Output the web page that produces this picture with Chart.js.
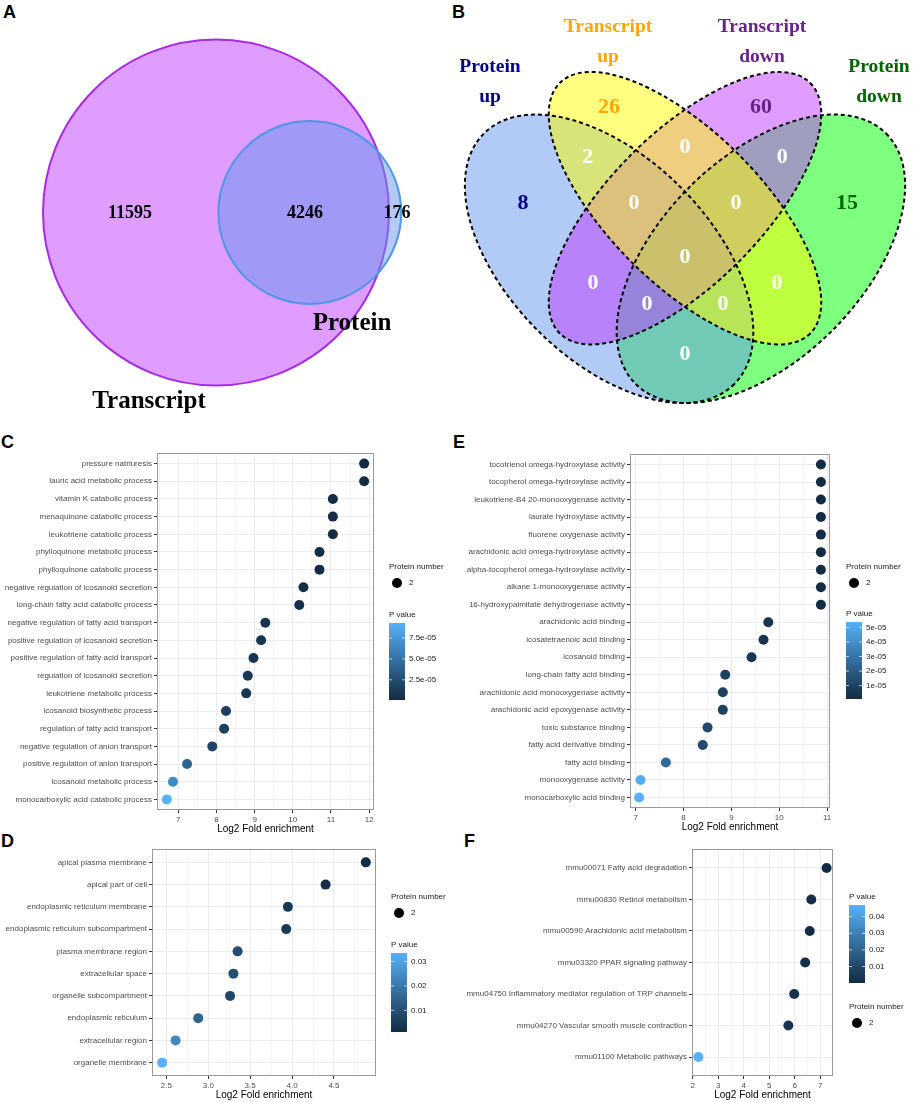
<!DOCTYPE html>
<html>
<head>
<meta charset="utf-8">
<script src="https://cdn.jsdelivr.net/npm/chart.js@4/dist/chart.umd.min.js"></script>
<style>
  body { margin: 0; background: #fff; width: 913px; height: 1102px; position: relative; overflow: hidden; }
  canvas { position: absolute; }
  .tag { position: absolute; font: bold 18px "Liberation Sans", Arial, sans-serif; line-height: 18px; color: #000; }
</style>
</head>
<body>
<div class="tag" style="left:3px;top:3px">A</div>
<div class="tag" style="left:452px;top:3px">B</div>
<div class="tag" style="left:1px;top:433px">C</div>
<div class="tag" style="left:453px;top:433px">E</div>
<div class="tag" style="left:1px;top:832px">D</div>
<div class="tag" style="left:464px;top:832px">F</div>

<canvas id="cA" width="460" height="430" style="left:0;top:0"></canvas>
<canvas id="cB" width="453" height="430" style="left:460px;top:0"></canvas>
<canvas id="cC" width="460" height="410" style="left:0;top:430px"></canvas>
<canvas id="cE" width="453" height="410" style="left:460px;top:430px"></canvas>
<canvas id="cD" width="460" height="262" style="left:0;top:840px"></canvas>
<canvas id="cF" width="453" height="262" style="left:460px;top:840px"></canvas>

<script>
// ---- A: transcript / protein overlap
const vennASets = ['Transcript', 'Protein'];
const vennACounts = [11595, 4246, 176]; // transcript only, both, protein only

// ---- B: up / down overlap
const vennBSets = ['Protein up', 'Transcript up', 'Transcript down', 'Protein down'];
const vennBRegions = ['A', 'B', 'C', 'D', 'AB', 'BC', 'CD', 'ABC', 'BCD', 'ABCD', 'AC', 'BD', 'ACD', 'ABD', 'AD'];
const vennBCounts = [8, 26, 60, 15, 2, 0, 0, 0, 0, 0, 0, 0, 0, 0, 0];

// ---- C: GO biological process
const bpTerms = ['pressure natriuresis', 'lauric acid metabolic process', 'vitamin K catabolic process',
  'menaquinone catabolic process', 'leukotriene catabolic process', 'phylloquinone metabolic process',
  'phylloquinone catabolic process', 'negative regulation of icosanoid secretion',
  'long-chain fatty acid catabolic process', 'negative regulation of fatty acid transport',
  'positive regulation of icosanoid secretion', 'positive regulation of fatty acid transport',
  'regulation of icosanoid secretion', 'leukotriene metabolic process', 'icosanoid biosynthetic process',
  'regulation of fatty acid transport', 'negative regulation of anion transport',
  'positive regulation of anion transport', 'icosanoid metabolic process', 'monocarboxylic acid catabolic process'];
const bpFold = [11.87, 11.87, 11.05, 11.05, 11.05, 10.70, 10.70, 10.28, 10.17, 9.28,
  9.17, 8.97, 8.82, 8.78, 8.25, 8.20, 7.89, 7.23, 6.86, 6.70];
const bpP = [8e-7, 8e-7, 1.6e-6, 1.6e-6, 1.6e-6, 2.2e-6, 2.2e-6, 3e-6, 3.3e-6, 6.5e-6,
  7e-6, 8.2e-6, 9.1e-6, 9.4e-6, 1.4e-5, 1.45e-5, 1.8e-5, 4.0e-5, 6.6e-5, 9.3e-5];
const bpTicks = [7, 8, 9, 10, 11, 12];
const bpTickLabels = ['7', '8', '9', '10', '11', '12'];
const bpPTicks = [2.5e-5, 5.0e-5, 7.5e-5];
const bpPLabels = ['2.5e-05', '5.0e-05', '7.5e-05'];

// ---- D: GO cellular component
const ccTerms = ['apical plasma membrane', 'apical part of cell', 'endoplasmic reticulum membrane',
  'endoplasmic reticulum subcompartment', 'plasma membrane region', 'extracellular space',
  'organelle subcompartment', 'endoplasmic reticulum', 'extracellular region', 'organelle membrane'];
const ccFold = [4.88, 4.40, 3.95, 3.93, 3.35, 3.30, 3.26, 2.88, 2.61, 2.45];
const ccP = [0.0011, 0.002, 0.0043, 0.0045, 0.0092, 0.010, 0.0076, 0.015, 0.0235, 0.0335];
const ccTicks = [2.5, 3.0, 3.5, 4.0, 4.5];
const ccTickLabels = ['2.5', '3.0', '3.5', '4.0', '4.5'];
const ccPTicks = [0.01, 0.02, 0.03];
const ccPLabels = ['0.01', '0.02', '0.03'];

// ---- E: GO molecular function
const mfTerms = ['tocotrienol omega-hydroxylase activity', 'tocopherol omega-hydroxylase activity',
  'leukotriene-B4 20-monooxygenase activity', 'laurate hydroxylase activity', 'fluorene oxygenase activity',
  'arachidonic acid omega-hydroxylase activity', 'alpha-tocopherol omega-hydroxylase activity',
  'alkane 1-monooxygenase activity', '16-hydroxypalmitate dehydrogenase activity', 'arachidonic acid binding',
  'icosatetraenoic acid binding', 'icosanoid binding', 'long-chain fatty acid binding',
  'arachidonic acid monooxygenase activity', 'arachidonic acid epoxygenase activity', 'toxic substance binding',
  'fatty acid derivative binding', 'fatty acid binding', 'monooxygenase activity', 'monocarboxylic acid binding'];
const mfFold = [10.87, 10.87, 10.87, 10.87, 10.87, 10.87, 10.87, 10.87, 10.87, 9.77,
  9.67, 9.42, 8.87, 8.82, 8.82, 8.50, 8.40, 7.63, 7.10, 7.07];
const mfP = [8e-7, 8e-7, 8e-7, 8e-7, 8e-7, 8e-7, 8e-7, 8e-7, 8e-7, 4e-6,
  4.5e-6, 5.5e-6, 9e-6, 9.5e-6, 9.5e-6, 1.2e-5, 1.3e-5, 2.5e-5, 5.2e-5, 5.37e-5];
const mfTicks = [7, 8, 9, 10, 11];
const mfTickLabels = ['7', '8', '9', '10', '11'];
const mfPTicks = [1e-5, 2e-5, 3e-5, 4e-5, 5e-5];
const mfPLabels = ['1e-05', '2e-05', '3e-05', '4e-05', '5e-05'];

// ---- F: KEGG pathways
const keggTerms = ['mmu00071 Fatty acid degradation', 'mmu00830 Retinol metabolism',
  'mmu00590 Arachidonic acid metabolism', 'mmu03320 PPAR signaling pathway',
  'mmu04750 Inflammatory mediator regulation of TRP channels', 'mmu04270 Vascular smooth muscle contraction',
  'mmu01100 Metabolic pathways'];
const keggFold = [7.25, 6.65, 6.59, 6.41, 5.98, 5.75, 2.22];
const keggP = [0.0001, 0.0008, 0.0009, 0.0012, 0.0022, 0.0028, 0.047];
const keggTicks = [2, 3, 4, 5, 6, 7];
const keggTickLabels = ['2', '3', '4', '5', '6', '7'];
const keggPTicks = [0.01, 0.02, 0.03, 0.04];
const keggPLabels = ['0.01', '0.02', '0.03', '0.04'];

const proteinNumber = [2];

const SANS = '"Liberation Sans", Arial, Helvetica, sans-serif';
const SERIF = '"Liberation Serif", "Times New Roman", serif';
const LOW = [19, 43, 67], HIGH = [86, 177, 247];

function pColor(p, lo, hi) {
  const t = hi > lo ? (p - lo) / (hi - lo) : 0;
  const c = LOW.map((v, i) => Math.round(v + (HIGH[i] - v) * t));
  return 'rgb(' + c.join(',') + ')';
}

// ---------- Venn A ----------
function lensArea(r1, r2, d) {
  const a1 = Math.acos((d * d + r1 * r1 - r2 * r2) / (2 * d * r1));
  const a2 = Math.acos((d * d + r2 * r2 - r1 * r1) / (2 * d * r2));
  return r1 * r1 * (a1 - Math.sin(2 * a1) / 2) + r2 * r2 * (a2 - Math.sin(2 * a2) / 2);
}

(function() {
  const tTotal = vennACounts[0] + vennACounts[1];
  const pTotal = vennACounts[1] + vennACounts[2];
  const r1 = 173;
  const r2 = r1 * Math.sqrt(pTotal / tTotal);
  const target = Math.PI * r1 * r1 * vennACounts[1] / tTotal;
  let lo = r1 - r2 + 1e-6, hi = r1 + r2 - 1e-6;
  for (let i = 0; i < 60; i++) {
    const m = (lo + hi) / 2;
    if (lensArea(r1, r2, m) > target) lo = m; else hi = m;
  }
  const d = (lo + hi) / 2;
  const cx = 216, cy = 212.5;

  // label anchors: counts then set names
  const labelPts = [{x: 130, y: 213}, {x: 305, y: 213}, {x: 397, y: 213}];
  const namePts = [{x: 149, y: 402}, {x: 352, y: 324}];

  new Chart(document.getElementById('cA'), {
    type: 'scatter',
    data: {
      datasets: [
        { data: labelPts, pointRadius: 0 },
        { data: namePts, pointRadius: 0 }
      ]
    },
    options: {
      responsive: false, animation: false, events: [],
      layout: { padding: 0 },
      plugins: { legend: { display: false }, tooltip: { enabled: false } },
      scales: {
        x: { type: 'linear', min: 0, max: 460, display: false },
        y: { type: 'linear', min: 0, max: 430, reverse: true, display: false }
      }
    },
    plugins: [{
      id: 'vennA',
      beforeDatasetsDraw(chart) {
        const {ctx, scales: {x, y}} = chart;
        const k = x.getPixelForValue(1) - x.getPixelForValue(0);
        const circles = [
          { cx: cx, r: r1, fill: 'rgba(191,62,255,0.5)', line: '#a62ae8' },
          { cx: cx + d, r: r2, fill: 'rgba(100,149,237,0.5)', line: '#4f97e6' }
        ];
        ctx.save();
        circles.forEach(c => {
          ctx.beginPath();
          ctx.arc(x.getPixelForValue(c.cx), y.getPixelForValue(cy), c.r * k, 0, Math.PI * 2);
          ctx.fillStyle = c.fill;
          ctx.fill();
          ctx.lineWidth = 2;
          ctx.strokeStyle = c.line;
          ctx.stroke();
        });
        ctx.restore();
      },
      afterDatasetsDraw(chart) {
        const ctx = chart.ctx;
        ctx.save();
        ctx.fillStyle = '#000';
        ctx.textAlign = 'center';
        ctx.textBaseline = 'middle';
        ctx.font = 'bold 18px ' + SERIF;
        chart.getDatasetMeta(0).data.forEach((pt, i) => ctx.fillText(String(vennACounts[i]), pt.x, pt.y));
        ctx.font = 'bold 25px ' + SERIF;
        chart.getDatasetMeta(1).data.forEach((pt, i) => ctx.fillText(vennASets[i], pt.x, pt.y));
        ctx.restore();
      }
    }]
  });
})();

// ---------- Venn B ----------
(function() {
  const unit = 506; // px per layout unit
  // region label anchors in layout units (same order as vennBRegions)
  const regionPts = [
    {x: 0.180, y: 0.580}, {x: 0.350, y: 0.770}, {x: 0.650, y: 0.770}, {x: 0.820, y: 0.580},
    {x: 0.308, y: 0.671}, {x: 0.500, y: 0.691}, {x: 0.692, y: 0.671}, {x: 0.399, y: 0.580},
    {x: 0.601, y: 0.580}, {x: 0.500, y: 0.472}, {x: 0.318, y: 0.422}, {x: 0.682, y: 0.422},
    {x: 0.425, y: 0.381}, {x: 0.575, y: 0.381}, {x: 0.500, y: 0.282}
  ];
  const regionColors = ['#00008b', '#ffa500', '#68228b', '#006400'];
  const ellipses = [
    { cx: 0.65, cy: 0.47, a: 0.35, b: 0.20, rot: -45, fill: 'rgba(0,255,0,0.5)' },
    { cx: 0.35, cy: 0.47, a: 0.35, b: 0.20, rot: 45, fill: 'rgba(100,149,237,0.5)' },
    { cx: 0.50, cy: 0.57, a: 0.35, b: 0.15, rot: -45, fill: 'rgba(191,62,255,0.5)' },
    { cx: 0.50, cy: 0.57, a: 0.35, b: 0.15, rot: 45, fill: 'rgba(255,255,0,0.5)' }
  ];
  const setLabelPos = [[30, 67, 97], [148, 27, 57], [302, 27, 57], [419, 67, 97]];

  new Chart(document.getElementById('cB'), {
    type: 'scatter',
    data: { datasets: [{ data: regionPts, pointRadius: 0 }] },
    options: {
      responsive: false, animation: false, events: [],
      layout: { padding: 0 },
      plugins: { legend: { display: false }, tooltip: { enabled: false } },
      scales: {
        x: { type: 'linear', min: 0.5 - 225 / unit, max: 0.5 + 228 / unit, display: false },
        y: { type: 'linear', min: 0.185 - 27 / unit, max: 0.185 + 403 / unit, display: false }
      }
    },
    plugins: [{
      id: 'vennB',
      beforeDatasetsDraw(chart) {
        const {ctx, scales: {x, y}} = chart;
        const k = x.getPixelForValue(1) - x.getPixelForValue(0);
        ctx.save();
        ellipses.forEach(e => {
          ctx.beginPath();
          ctx.ellipse(x.getPixelForValue(e.cx), y.getPixelForValue(e.cy), e.a * k, e.b * k, e.rot * Math.PI / 180, 0, Math.PI * 2);
          ctx.fillStyle = e.fill;
          ctx.fill();
        });
        ctx.setLineDash([4, 3]);
        ctx.lineWidth = 2;
        ctx.strokeStyle = '#000';
        ellipses.forEach(e => {
          ctx.beginPath();
          ctx.ellipse(x.getPixelForValue(e.cx), y.getPixelForValue(e.cy), e.a * k, e.b * k, e.rot * Math.PI / 180, 0, Math.PI * 2);
          ctx.stroke();
        });
        ctx.restore();
      },
      afterDatasetsDraw(chart) {
        const ctx = chart.ctx;
        ctx.save();
        ctx.textAlign = 'center';
        ctx.textBaseline = 'middle';
        ctx.font = 'bold 22px ' + SERIF;
        chart.getDatasetMeta(0).data.forEach((pt, i) => {
          const r = vennBRegions[i];
          ctx.fillStyle = r.length === 1 ? regionColors['ABCD'.indexOf(r)] : '#fff';
          ctx.fillText(String(vennBCounts[i]), pt.x, pt.y);
        });
        ctx.font = 'bold 19.5px ' + SERIF;
        vennBSets.forEach((s, i) => {
          const words = s.split(' ');
          const p = setLabelPos[i];
          ctx.fillStyle = regionColors[i];
          ctx.fillText(words[0], p[0], p[1]);
          ctx.fillText(words[1], p[0], p[2]);
        });
        ctx.restore();
      }
    }]
  });
})();

// ---------- dot plots ----------
function dotPlot(id, terms, fold, pv, xTicks, xLabels, pTicks, pLabels, box, leg) {
  const lo = Math.min(...fold), hi = Math.max(...fold), pad = (hi - lo) * 0.05;
  const xmin = lo - pad, xmax = hi + pad;
  const pmin = Math.min(...pv), pmax = Math.max(...pv);
  const step = xTicks[1] - xTicks[0];
  const minors = xTicks.map(v => v - step / 2).concat([xTicks[xTicks.length - 1] + step / 2]);
  const isMajor = v => xTicks.some(t => Math.abs(t - v) < 1e-9);

  const frame = {
    id: 'frame',
    afterDatasetsDraw(chart) {
      const {ctx, chartArea: a} = chart;
      ctx.save();
      ctx.strokeStyle = '#9a9a9a';
      ctx.lineWidth = 1;
      ctx.strokeRect(a.left + 0.5, a.top + 0.5, a.right - a.left - 1, a.bottom - a.top - 1);
      ctx.restore();
    }
  };

  const legend = {
    id: 'scaleLegend',
    afterDraw(chart) {
      const ctx = chart.ctx;
      const w = 16;
      ctx.save();
      ctx.font = '8px ' + SANS;
      ctx.textBaseline = 'middle';
      ctx.textAlign = 'left';
      ctx.fillStyle = '#1a1a1a';
      ctx.fillText('Protein number', leg.x, leg.pnY);
      proteinNumber.forEach((n, i) => {
        const yy = leg.pnY + 16 + i * 16;
        ctx.beginPath();
        ctx.arc(leg.x + 8, yy, 5, 0, Math.PI * 2);
        ctx.fillStyle = '#000';
        ctx.fill();
        ctx.fillStyle = '#1a1a1a';
        ctx.fillText(String(n), leg.x + 20, yy);
      });
      ctx.fillText('P value', leg.x, leg.pvY);
      const top = leg.pvY + 8, bot = top + leg.h;
      const g = ctx.createLinearGradient(0, bot, 0, top);
      g.addColorStop(0, pColor(pmin, pmin, pmax));
      g.addColorStop(1, pColor(pmax, pmin, pmax));
      ctx.fillStyle = g;
      ctx.fillRect(leg.x, top, w, leg.h);
      ctx.strokeStyle = 'rgba(255,255,255,0.85)';
      ctx.lineWidth = 0.8;
      pTicks.forEach((v, i) => {
        const yy = bot - (v - pmin) / (pmax - pmin) * leg.h;
        ctx.beginPath();
        ctx.moveTo(leg.x, yy); ctx.lineTo(leg.x + 3, yy);
        ctx.moveTo(leg.x + w - 3, yy); ctx.lineTo(leg.x + w, yy);
        ctx.stroke();
        ctx.fillStyle = '#1a1a1a';
        ctx.fillText(pLabels[i], leg.x + w + 4, yy);
      });
      ctx.restore();
    }
  };

  new Chart(document.getElementById(id), {
    type: 'scatter',
    data: {
      datasets: [{
        data: fold.map((f, i) => ({ x: f, y: i + 1 })),
        pointRadius: 5,
        pointHoverRadius: 5,
        pointBorderWidth: 0,
        pointBackgroundColor: pv.map(p => pColor(p, pmin, pmax)),
        pointBorderColor: 'rgba(0,0,0,0)'
      }]
    },
    options: {
      responsive: false, animation: false, events: [],
      layout: { padding: { left: 0, top: box.top, right: box.right, bottom: 0 } },
      plugins: { legend: { display: false }, tooltip: { enabled: false } },
      scales: {
        x: {
          type: 'linear', min: xmin, max: xmax,
          afterBuildTicks: s => {
            s.ticks = xTicks.concat(minors).filter(v => v >= xmin && v <= xmax)
              .sort((a, b) => a - b).map(v => ({ value: v }));
          },
          afterFit: s => { s.height = box.axisH; },
          border: { display: false },
          grid: {
            color: '#ebebeb',
            lineWidth: c => (c.tick && isMajor(c.tick.value)) ? 1 : 0.5,
            tickColor: c => (c.tick && isMajor(c.tick.value)) ? '#333' : 'rgba(0,0,0,0)',
            tickLength: 3
          },
          ticks: {
            autoSkip: false, maxRotation: 0, padding: 2, color: '#4d4d4d',
            font: { size: 8, family: SANS },
            callback: v => {
              const i = xTicks.findIndex(t => Math.abs(t - v) < 1e-9);
              return i < 0 ? '' : xLabels[i];
            }
          },
          title: {
            display: true, text: 'Log2 Fold enrichment', color: '#000',
            font: { size: 10, family: SANS }, padding: { top: 0, bottom: box.titlePad }
          }
        },
        y: {
          type: 'linear', reverse: true, min: 0.4, max: terms.length + 0.6,
          afterBuildTicks: s => { s.ticks = terms.map((t, i) => ({ value: i + 1 })); },
          afterFit: s => { s.width = box.left; },
          border: { display: false },
          grid: { color: '#ebebeb', lineWidth: 1, tickColor: '#333', tickLength: 3 },
          ticks: {
            autoSkip: false, padding: 2, color: '#4d4d4d',
            font: { size: 8, family: SANS },
            callback: v => terms[Math.round(v) - 1]
          }
        }
      }
    },
    plugins: [frame, legend]
  });
}

dotPlot('cC', bpTerms, bpFold, bpP, bpTicks, bpTickLabels, bpPTicks, bpPLabels,
  { left: 157, top: 23, right: 86, axisH: 30, titlePad: 5 },
  { x: 389, pnY: 137, pvY: 185, h: 77 });
dotPlot('cE', mfTerms, mfFold, mfP, mfTicks, mfTickLabels, mfPTicks, mfPLabels,
  { left: 170, top: 24, right: 83, axisH: 32, titlePad: 7 },
  { x: 386, pnY: 137, pvY: 184, h: 77 });
dotPlot('cD', ccTerms, ccFold, ccP, ccTicks, ccTickLabels, ccPTicks, ccPLabels,
  { left: 152, top: 9, right: 84, axisH: 26, titlePad: 1 },
  { x: 391, pnY: 57, pvY: 105, h: 79 });
dotPlot('cF', keggTerms, keggFold, keggP, keggTicks, keggTickLabels, keggPTicks, keggPLabels,
  { left: 232, top: 9, right: 80, axisH: 26, titlePad: 1 },
  { x: 389, pnY: 167, pvY: 57, h: 78 });
</script>
</body>
</html>
